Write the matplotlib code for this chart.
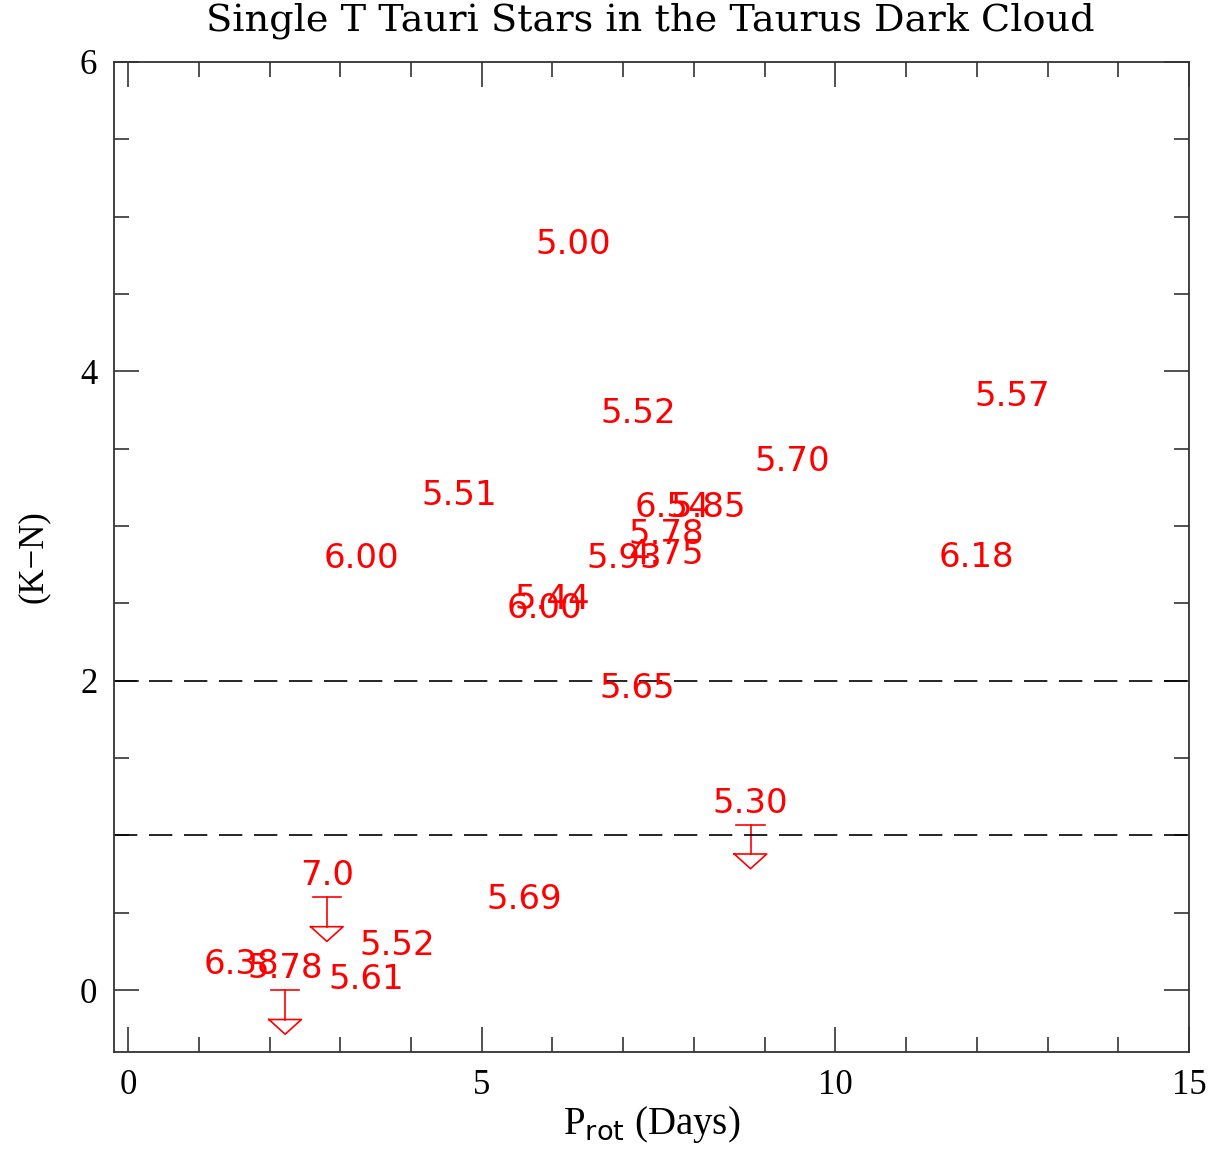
import matplotlib
matplotlib.use("Agg")
import matplotlib.pyplot as plt
from matplotlib.ticker import MultipleLocator

# Data: detections (label centred on the point)
prot = [6.29, 7.21, 12.50, 9.39, 4.68, 3.30, 11.99, 7.69, 8.20, 7.61, 7.60, 7.01, 5.99, 5.88, 7.20, 5.60, 3.80, 1.60, 3.37]
kn = [4.83, 3.74, 3.85, 3.43, 3.21, 2.80, 2.81, 3.13, 3.13, 2.96, 2.83, 2.80, 2.54, 2.48, 1.96, 0.60, 0.30, 0.18, 0.08]
labels = ["5.00", "5.52", "5.57", "5.70", "5.51", "6.00", "6.18", "6.54", "5.85", "5.78",
          "4.75", "5.93", "5.44", "6.00", "5.65", "5.69", "5.52", "6.38", "5.61"]

# Upper limits
prot_lim = [8.80, 2.81, 2.22]
kn_lim = [1.07, 0.60, 0.00]
labels_lim = ["5.30", "7.0", "5.78"]

hlines = [2.0, 1.0]

RED = "#ff0000"
fig = plt.figure(figsize=(12.14, 11.51), dpi=100)
ax = fig.add_axes([114/1214, 1 - 1052/1151, (1189-114)/1214, (1052-62)/1151])
ax.set_xlim(-0.2, 15)
ax.set_ylim(-0.4, 6)

for x, y, s in zip(prot, kn, labels):
    ax.text(x, y - 0.012, s, color=RED, ha="center", va="center", fontsize=24.5,
            family="DejaVu Sans")

for x, y, s in zip(prot_lim, kn_lim, labels_lim):
    ax.plot([x - 0.2, x + 0.2], [y, y], color=RED, lw=1.2)
    ax.plot([x, x], [y, y - 0.19], color=RED, lw=1.2)
    ax.plot([x - 0.23, x + 0.23, x, x - 0.23],
            [y - 0.19, y - 0.19, y - 0.285, y - 0.19], color=RED, lw=1.2)
    ax.text(x, y + 0.138, s, color=RED, ha="center", va="center", fontsize=24.5,
            family="DejaVu Sans")

for h in hlines:
    ax.axhline(h, color="black", lw=1.2, dashes=(14, 7))

ax.xaxis.set_major_locator(MultipleLocator(5))
ax.xaxis.set_minor_locator(MultipleLocator(1))
ax.yaxis.set_major_locator(MultipleLocator(2))
ax.yaxis.set_minor_locator(MultipleLocator(0.5))
ax.tick_params(which="both", direction="in", top=True, right=True,
               width=1.2, color="#333333")
ax.tick_params(which="major", length=18, labelsize=25, pad=12)
ax.tick_params(which="minor", length=11)
for lab in ax.get_xticklabels() + ax.get_yticklabels():
    lab.set_family("Liberation Serif")
for sp in ax.spines.values():
    sp.set_linewidth(1.3)
    sp.set_color("#333333")

ax.set_xlabel(r"P$_{\rm rot}$ (Days)", fontsize=28, family="Liberation Serif", labelpad=2)
ax.set_ylabel("(K\u2212N)", fontsize=25, family="Liberation Serif", labelpad=22)
fig.text(650/1214, 1 - 21/1151, "Single T Tauri Stars in the Taurus Dark Cloud",
         fontsize=27.5, family="DejaVu Serif", ha="center", va="center")

fig.savefig("out.png", dpi=100)
